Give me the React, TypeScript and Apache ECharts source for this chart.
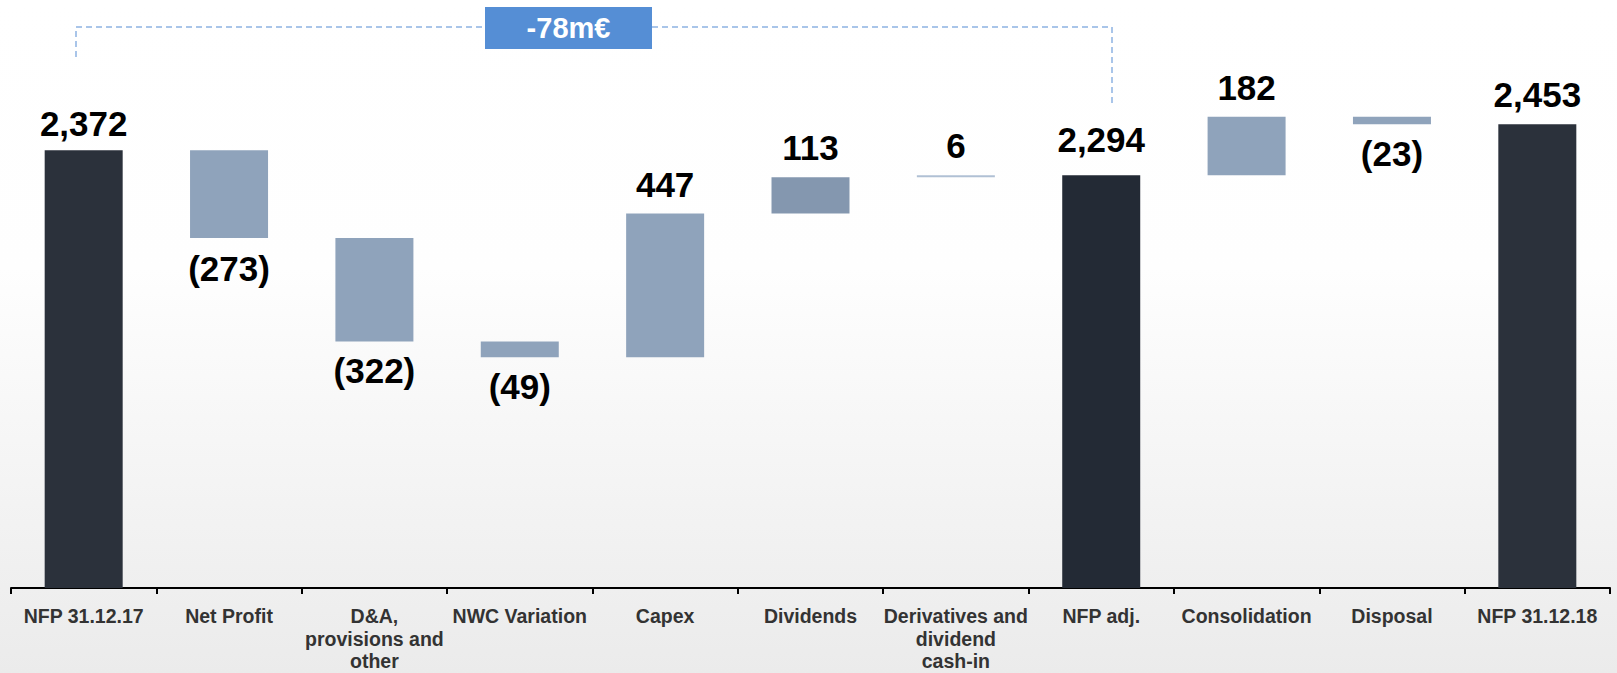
import React, { useEffect, useRef } from "react";
import * as echarts from "echarts";

const categories = [
  "NFP 31.12.17",
  "Net Profit",
  "D&A,\nprovisions and\nother",
  "NWC Variation",
  "Capex",
  "Dividends",
  "Derivatives and\ndividend\ncash-in",
  "NFP adj.",
  "Consolidation",
  "Disposal",
  "NFP 31.12.18",
];

// Values as labelled in the chart (m€); negatives shown in parentheses
const values = [2372, -273, -322, -49, 447, 113, 6, 2294, 182, -23, 2453];
const isTotal = [true, false, false, false, false, false, false, true, false, false, true];

const bracketLabel = "-78m€";

// Styles (kept separate from data)
const barColors = [
  "#2b313b", "#8fa3bb", "#8fa3bb", "#8fa3bb", "#8fa3bb", "#8497af",
  "#b0c0d4", "#232a35", "#8fa3bb", "#8fa3bb", "#2b313b",
];
const labelDistances = [9, 13, 12, 12, 12, 12, 12, 18, 12, 12, 12];

function buildWaterfall() {
  const base: number[] = [];
  const size: number[] = [];
  let running = 0;
  values.forEach((v, i) => {
    if (isTotal[i]) {
      base.push(0);
      size.push(v);
      running = v;
    } else if (v >= 0) {
      base.push(running);
      size.push(v);
      running += v;
    } else {
      base.push(running + v);
      size.push(-v);
      running += v;
    }
  });
  return { base, size };
}

function labelText(i: number) {
  const v = values[i];
  if (isTotal[i]) return v.toLocaleString("en-US");
  return v < 0 ? `(${-v})` : `${v}`;
}

export default function App() {
  const ref = useRef<HTMLDivElement>(null);

  useEffect(() => {
    if (!ref.current) return;
    const chart = echarts.init(ref.current, undefined, { renderer: "svg" });
    const { base, size } = buildWaterfall();
    const font = "'Liberation Sans', Arial, Helvetica, sans-serif";

    const visibleData = size.map((s, i) => {
      const neg = !isTotal[i] && values[i] < 0;
      return {
        value: s,
        itemStyle: { color: barColors[i] },
        label: {
          show: true,
          position: neg ? "bottom" : "top",
          distance: labelDistances[i],
          formatter: () => labelText(i),
        },
      };
    });

    chart.setOption({
      animation: false,
      backgroundColor: new echarts.graphic.LinearGradient(0, 0, 0, 1, [
        { offset: 0, color: "#ffffff" },
        { offset: 0.4, color: "#fefefe" },
        { offset: 1, color: "#ebebeb" },
      ]),
      grid: { left: 11, right: 7, top: 40, bottom: 85, containLabel: false },
      xAxis: {
        type: "category",
        data: categories,
        axisLine: { show: true, lineStyle: { color: "#000", width: 2 } },
        axisTick: { show: true, interval: 0, length: 6, lineStyle: { color: "#000", width: 2 } },
        axisLabel: {
          interval: 0,
          margin: 17,
          color: "#333",
          fontFamily: font,
          fontWeight: "bold",
          fontSize: 19.5,
          lineHeight: 22.5,
          align: "center",
        },
      },
      yAxis: {
        type: "value",
        min: 1010,
        max: 2715,
        show: false,
        splitLine: { show: false },
      },
      series: [
        {
          type: "bar",
          stack: "wf",
          data: base,
          barWidth: 78,
          itemStyle: { color: "transparent" },
          emphasis: { disabled: true },
          silent: true,
        },
        {
          type: "bar",
          stack: "wf",
          data: visibleData,
          barWidth: 78,
          label: {
            color: "#000",
            fontFamily: font,
            fontWeight: "bold",
            fontSize: 35,
          },
        },
      ],
      graphic: [
        {
          type: "polyline",
          shape: { points: [[76, 57], [76, 27], [485, 27]] },
          style: { stroke: "#8db3e2", lineWidth: 1.5, lineDash: [6, 4], fill: null },
          silent: true,
        },
        {
          type: "polyline",
          shape: { points: [[652, 27], [1112, 27], [1112, 107]] },
          style: { stroke: "#8db3e2", lineWidth: 1.5, lineDash: [6, 4], fill: null },
          silent: true,
        },
        {
          type: "rect",
          shape: { x: 485, y: 7, width: 167, height: 42 },
          style: { fill: "#558ed5" },
          silent: true,
        },
        {
          type: "text",
          x: 568.5,
          y: 28,
          style: {
            text: bracketLabel,
            fill: "#fff",
            font: `bold 29px ${font}`,
            align: "center",
            verticalAlign: "middle",
          },
          silent: true,
        },
      ],
    });

    return () => chart.dispose();
  }, []);

  return (
    <div
      ref={ref}
      style={{ position: "absolute", left: 0, top: 0, width: 1617, height: 673 }}
    />
  );
}
